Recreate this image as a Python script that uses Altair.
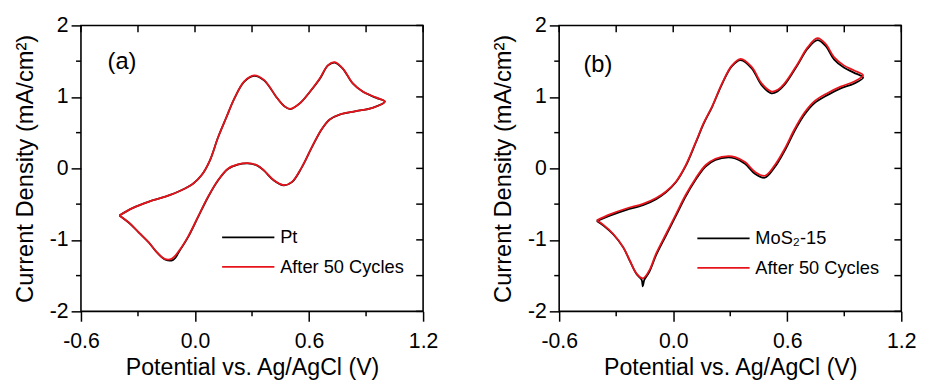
import altair as alt
import pandas as pd

# ---------------- data ----------------
# Panel (a): Pt
a_pt_v = [-0.398, -0.329, -0.242, -0.156, -0.069, -0.009, 0.034, 0.078, 0.121, 0.164, 0.208, 0.259, 0.311, 0.363,
          0.432, 0.470, 0.501, 0.553, 0.605, 0.657, 0.700, 0.735, 0.778, 0.830, 0.882, 0.951, 0.999,
          0.934, 0.847, 0.761, 0.709, 0.666, 0.614, 0.562, 0.510, 0.467, 0.415, 0.363, 0.328, 0.277, 0.225,
          0.173, 0.121, 0.069, 0.017, -0.035, -0.078, -0.115, -0.156, -0.199, -0.242, -0.294, -0.346, -0.398]
a_pt_j = [-0.658, -0.556, -0.465, -0.396, -0.303, -0.211, -0.097, 0.110, 0.432, 0.708, 0.984, 1.214, 1.295, 1.232,
          0.984, 0.870, 0.828, 0.912, 1.072, 1.255, 1.440, 1.480, 1.392, 1.188, 1.074, 0.990, 0.935,
          0.846, 0.800, 0.752, 0.684, 0.545, 0.290, 0.014, -0.193, -0.238, -0.170, -0.032, 0.038, 0.070, 0.052,
          -0.008, -0.170, -0.400, -0.676, -0.955, -1.140, -1.280, -1.278, -1.180, -1.040, -0.902, -0.764, -0.658]
# Panel (a): after 50 cycles
a_red_v = [-0.398, -0.329, -0.242, -0.156, -0.069, -0.009, 0.034, 0.078, 0.121, 0.164, 0.208, 0.259, 0.311, 0.363,
           0.432, 0.470, 0.501, 0.553, 0.605, 0.657, 0.700, 0.735, 0.778, 0.830, 0.882, 0.951, 0.999,
           0.934, 0.847, 0.761, 0.709, 0.666, 0.614, 0.562, 0.510, 0.467, 0.415, 0.363, 0.328, 0.277, 0.225,
           0.173, 0.121, 0.069, 0.017, -0.035, -0.078, -0.121, -0.156, -0.199, -0.242, -0.294, -0.346, -0.398]
a_red_j = [-0.658, -0.556, -0.465, -0.396, -0.303, -0.211, -0.097, 0.110, 0.432, 0.708, 0.984, 1.218, 1.302, 1.238,
           0.984, 0.870, 0.832, 0.915, 1.076, 1.262, 1.445, 1.486, 1.397, 1.190, 1.076, 0.993, 0.936,
           0.846, 0.800, 0.754, 0.686, 0.548, 0.294, 0.018, -0.189, -0.234, -0.166, -0.028, 0.041, 0.073, 0.055,
           -0.004, -0.166, -0.396, -0.672, -0.947, -1.131, -1.262, -1.270, -1.177, -1.039, -0.901, -0.763, -0.658]

# Panel (b): MoS2-15
b_mos_v = [-0.402, -0.333, -0.246, -0.159, -0.090, -0.038, 0.014, 0.066, 0.118, 0.161, 0.205, 0.257, 0.309, 0.355,
           0.413, 0.465, 0.517, 0.550, 0.586, 0.655, 0.707, 0.759, 0.803, 0.846, 0.898, 0.950, 0.999,
           0.950, 0.881, 0.811, 0.742, 0.690, 0.638, 0.586, 0.534, 0.482, 0.430, 0.378, 0.326, 0.291, 0.222,
           0.170, 0.118, 0.066, 0.014, -0.038, -0.090, -0.125, -0.152, -0.160, -0.166, -0.194, -0.229, -0.263,
           -0.315, -0.367, -0.402]
b_mos_j = [-0.735, -0.660, -0.580, -0.515, -0.430, -0.335, -0.195, 0.035, 0.355, 0.630, 0.862, 1.180, 1.430, 1.515,
           1.400, 1.165, 1.050, 1.080, 1.170, 1.450, 1.675, 1.795, 1.710, 1.525, 1.410, 1.340, 1.270,
           1.185, 1.120, 1.025, 0.910, 0.750, 0.520, 0.245, 0.015, -0.130, -0.075, 0.065, 0.138, 0.155, 0.118,
           0.025, -0.160, -0.390, -0.665, -0.940, -1.215, -1.445, -1.560, -1.650, -1.560, -1.475, -1.290, -1.105,
           -0.925, -0.800, -0.735]
# Panel (b): after 50 cycles
b_red_v = [-0.402, -0.333, -0.246, -0.159, -0.090, -0.038, 0.014, 0.066, 0.118, 0.161, 0.205, 0.257, 0.309, 0.355,
           0.413, 0.465, 0.517, 0.550, 0.586, 0.655, 0.707, 0.759, 0.803, 0.846, 0.898, 0.950, 0.999,
           0.950, 0.881, 0.811, 0.742, 0.690, 0.638, 0.586, 0.534, 0.482, 0.430, 0.378, 0.326, 0.291, 0.222,
           0.170, 0.118, 0.066, 0.014, -0.038, -0.090, -0.125, -0.159, -0.194, -0.229, -0.263, -0.315, -0.367, -0.402]
b_red_j = [-0.726, -0.643, -0.561, -0.497, -0.415, -0.323, -0.186, 0.044, 0.364, 0.639, 0.869, 1.189, 1.440, 1.533,
           1.419, 1.189, 1.075, 1.100, 1.189, 1.464, 1.693, 1.821, 1.739, 1.556, 1.441, 1.372, 1.303,
           1.212, 1.144, 1.052, 0.937, 0.777, 0.547, 0.272, 0.044, -0.103, -0.048, 0.089, 0.158, 0.172, 0.135,
           0.044, -0.140, -0.369, -0.643, -0.918, -1.193, -1.423, -1.537, -1.468, -1.285, -1.102, -0.918, -0.790, -0.726]

a_names = ["Pt", "After 50 Cycles"]
b_names = ["MoS\u2082-15", "After 50 Cycles"]

# tick values
x_major = [-0.6, 0.0, 0.6, 1.2]
x_minor = [-0.3, 0.3, 0.9]
y_major = [-2, -1, 0, 1, 2]
y_minor = [-1.5, -0.5, 0.5, 1.5]
x_all = [-0.6, -0.3, 0.0, 0.3, 0.6, 0.9, 1.2]
y_all = [-2, -1.5, -1, -0.5, 0, 0.5, 1, 1.5, 2]

FONT = "Liberation Sans"
W, H = 347, 290
RED = "#e8141b"


def make_df(curves):
    rows = []
    for name, vs, js in curves:
        for i, (v, j) in enumerate(zip(vs, js)):
            rows.append({"s": name, "v": v, "j": j, "i": i})
    return pd.DataFrame(rows)


def panel(df, names, tag, tag_v, tag_j, lx, ly):
    xs = alt.Scale(domain=[-0.6, 1.2], nice=False, zero=False)
    ys = alt.Scale(domain=[-2, 2], nice=False, zero=False)
    cs = alt.Scale(domain=names, range=["#000000", RED])
    leg = alt.Legend(title=None, orient="none", legendX=lx, legendY=ly,
                     symbolType="M-1,0H5", symbolSize=312, symbolStrokeWidth=1.8,
                     labelFont=FONT, labelFontSize=18.5, labelColor="black",
                     labelOffset=40, rowPadding=10, padding=0)
    ax_x = alt.Axis(orient="bottom", values=x_major, tickSize=10, tickWidth=1.5, tickColor="black",
                    domain=False, grid=False, labelFlush=False, labelOverlap=False,
                    labelExpr="datum.value < 0 ? '-' + format(-datum.value, '.1f') : format(datum.value, '.1f')",
                    labelFont=FONT, labelFontSize=21.5, labelColor="black", labelPadding=10,
                    title="Potential vs. Ag/AgCl (V)", titleFont=FONT, titleFontSize=23.5,
                    titleFontWeight="normal", titleColor="black", titlePadding=4)
    ax_y = alt.Axis(orient="left", values=y_major, tickSize=10, tickWidth=1.5, tickColor="black",
                    domain=False, grid=False, labelFlush=False, labelOverlap=False,
                    labelExpr="datum.value < 0 ? '-' + format(-datum.value, 'd') : format(datum.value, 'd')",
                    labelFont=FONT, labelFontSize=21.5, labelColor="black", labelPadding=3,
                    title="Current Density (mA/cm\u00b2)", titleFont=FONT, titleFontSize=24,
                    titleFontWeight="normal", titleColor="black", titlePadding=12)

    X = alt.X("v:Q", scale=xs, axis=ax_x)
    Y = alt.Y("j:Q", scale=ys, axis=ax_y)

    base = alt.Chart(df)
    black = base.transform_filter(alt.datum.s == names[0]).mark_line(
        strokeWidth=1.8, interpolate="catmull-rom").encode(
        x=X, y=Y, color=alt.Color("s:N", scale=cs, legend=leg), order=alt.Order("i:Q"))
    red = base.transform_filter(alt.datum.s == names[1]).mark_line(
        strokeWidth=1.8, interpolate="catmull-rom").encode(
        x=X, y=Y, color=alt.Color("s:N", scale=cs, legend=leg), order=alt.Order("i:Q"))
    # minor outward ticks (bottom, left) and inward ticks on the top and right frame
    bottom_minor = alt.Chart(pd.DataFrame({"v": x_minor})).mark_rule(
        color="black", strokeWidth=1.5).encode(x=X, y=alt.value(H), y2=alt.value(H + 5))
    left_minor = alt.Chart(pd.DataFrame({"j": y_minor})).mark_rule(
        color="black", strokeWidth=1.5).encode(y=Y, x=alt.value(0), x2=alt.value(-5))
    top_ticks = alt.Chart(pd.DataFrame({"v": x_all})).mark_rule(
        color="black", strokeWidth=1.5).encode(x=X, y=alt.value(0), y2=alt.value(7))
    right_ticks = alt.Chart(pd.DataFrame({"j": y_all})).mark_rule(
        color="black", strokeWidth=1.5).encode(y=Y, x=alt.value(W), x2=alt.value(W - 7))
    tag_df = pd.DataFrame({"v": [tag_v], "j": [tag_j], "t": [tag]})
    label = alt.Chart(tag_df).mark_text(font=FONT, fontSize=24, align="left", baseline="middle",
                                         color="black").encode(x=X, y=Y, text="t:N")
    return alt.layer(black, red, bottom_minor, left_minor, top_ticks, right_ticks, label).properties(
        width=W, height=H)


df_a = make_df([(a_names[0], a_pt_v, a_pt_j), (a_names[1], a_red_v, a_red_j)])
df_b = make_df([(b_names[0], b_mos_v, b_mos_j), (b_names[1], b_red_v, b_red_j)])

pa = panel(df_a, a_names, "(a)", -0.46, 1.48, 142, 205)
pb = panel(df_b, b_names, "(b)", -0.472, 1.45, 139, 206)

chart = alt.hconcat(pa, pb, spacing=53).resolve_scale(color="independent").resolve_legend(
    color="independent").configure_view(stroke="black", strokeWidth=1.6).properties(
    padding={"left": 5, "top": 3, "right": 5, "bottom": 0})

chart.save("out.html", embed_options={"renderer": "svg", "actions": False})
